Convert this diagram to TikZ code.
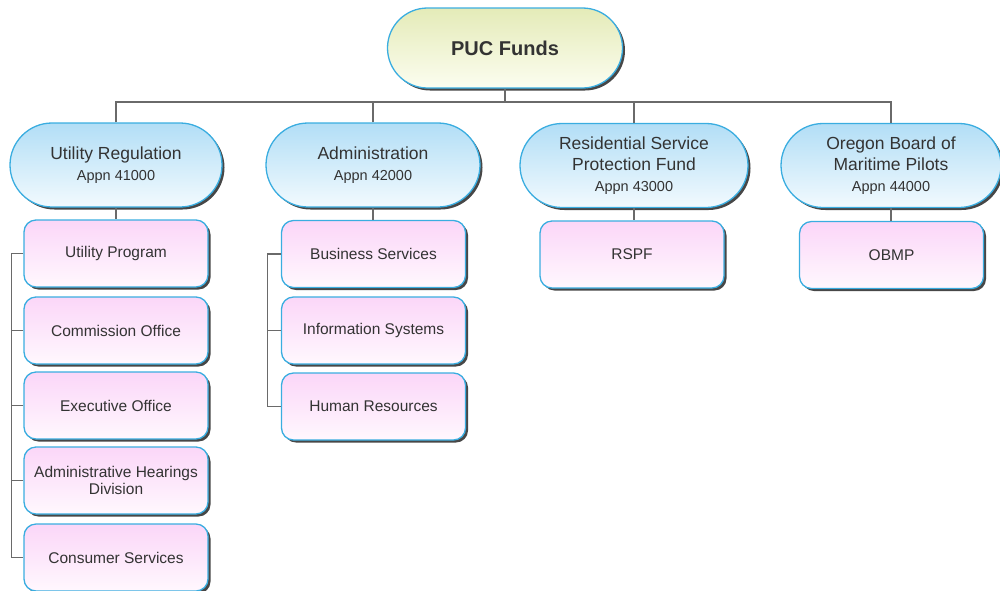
\documentclass[tikz,border=0pt]{standalone}
\usepackage{fontspec}
\setmainfont{Liberation Sans}
\usetikzlibrary{shapes.misc,shadows}
\definecolor{bord}{HTML}{3AADE0}
\definecolor{txt}{HTML}{333333}
\definecolor{lin}{HTML}{6A6A6A}
\definecolor{ytop}{HTML}{E4EBB8}
\definecolor{ybot}{HTML}{FCFDF0}
\definecolor{btop}{HTML}{B2DEF6}
\definecolor{bbot}{HTML}{F2FAFE}
\definecolor{ptop}{HTML}{FBD6F8}
\definecolor{pbot}{HTML}{FFF8FE}
\newcommand{\appnfont}{\fontsize{14.5}{17}\selectfont}
\tikzset{
  shd/.style={drop shadow={shadow xshift=2.5pt,shadow yshift=-2.5pt,fill=black!80,opacity=0.9}},
  topnode/.style={rounded rectangle,draw=bord,line width=1.3pt,shd,
    top color=ytop,bottom color=ybot,
    minimum width=235pt,minimum height=80pt,inner sep=0pt,
    font=\fontsize{20}{24}\selectfont\bfseries,text=txt},
  midnode/.style={rounded rectangle,draw=bord,line width=1.3pt,shd,
    top color=btop,bottom color=bbot,
    minimum height=84pt,inner sep=0pt,align=center,text=txt,
    font=\fontsize{17.5}{20.5}\selectfont},
  leaf/.style={rectangle,rounded corners=12pt,draw=bord,line width=1.3pt,shd,
    top color=ptop,bottom color=pbot,
    minimum width=184pt,minimum height=67pt,inner sep=0pt,align=center,text=txt,
    font=\fontsize{15.5}{17.5}\selectfont},
  conn/.style={draw=lin,line width=1.1pt}
}
\begin{document}
\begin{tikzpicture}[x=1pt,y=-1pt]
\useasboundingbox (0,0) rectangle (1000,590);
\coordinate (bar) at (505,102);
% top
\node[topnode] (puc) at (505,48) {PUC Funds};
% level 2
\node[midnode,minimum width=212pt] (ur) at (116,165) {Utility Regulation\\[0.5pt]{\appnfont Appn 41000}};
\node[midnode,minimum width=214pt] (ad) at (373,165) {Administration\\[0.5pt]{\appnfont Appn 42000}};
\node[midnode,minimum width=228pt] (rs) at (634,165.5) {Residential Service\\Protection Fund\\[0.5pt]{\appnfont Appn 43000}};
\node[midnode,minimum width=220pt] (ob) at (891,165.5) {Oregon Board of\\Maritime Pilots\\[0.5pt]{\appnfont Appn 44000}};
% level 3
\node[leaf] (up) at (116,253.5) {Utility Program};
\node[leaf] (co) at (116,330.5) {Commission Office};
\node[leaf] (eo) at (116,405.5) {Executive Office};
\node[leaf] (ah) at (116,480.5) {Administrative Hearings\\Division};
\node[leaf] (cs) at (116,557.5) {Consumer Services};
\node[leaf] (bs) at (373.5,254) {Business Services};
\node[leaf] (is) at (373.5,330.5) {Information Systems};
\node[leaf] (hr) at (373.5,406.5) {Human Resources};
\node[leaf] (rp) at (632,254.5) {RSPF};
\node[leaf] (om) at (891.5,255) {OBMP};
% connectors
\draw[conn] (puc.south) -- (puc.south |- bar);
\draw[conn] (ur.north) |- (bar) -| (ob.north);
\draw[conn] (ad.north) -- (ad.north |- bar);
\draw[conn] (rs.north) -- (rs.north |- bar);
\draw[conn] (ur.south) -- (ur.south |- up.north);
\draw[conn] (ad.south) -- (ad.south |- bs.north);
\draw[conn] (rs.south) -- (rs.south |- rp.north);
\draw[conn] (ob.south) -- (ob.south |- om.north);
\draw[conn] (up.west) -- ++(-12,0) |- (cs.west);
\foreach \n in {co,eo,ah} \draw[conn] (\n.west) -- ++(-12,0);
\draw[conn] (bs.west) -- ++(-13,0) |- (hr.west);
\draw[conn] (is.west) -- ++(-13,0);
\end{tikzpicture}
\end{document}
